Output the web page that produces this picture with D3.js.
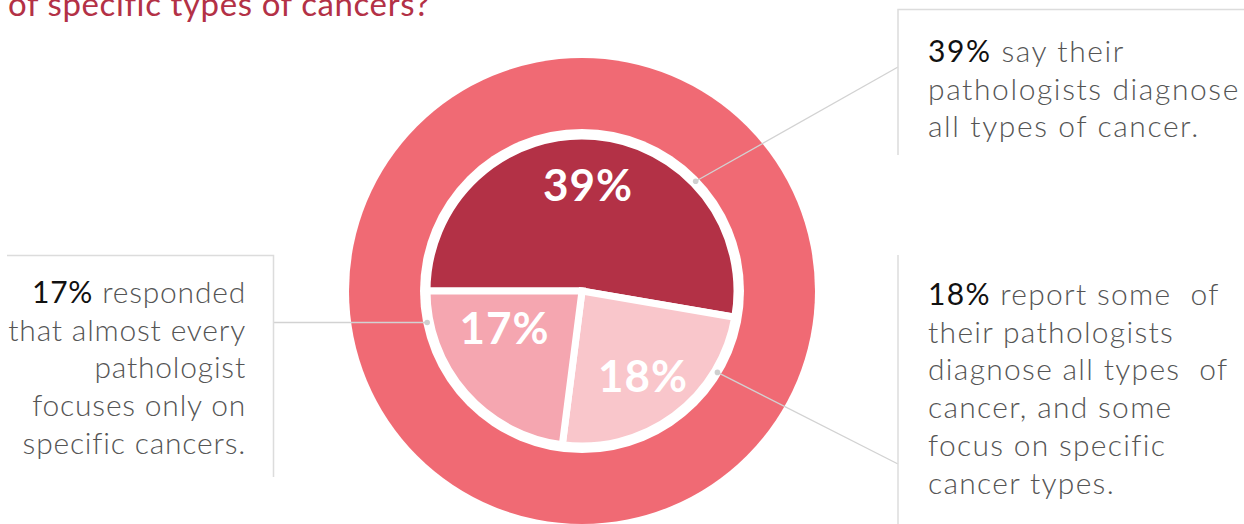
<!DOCTYPE html>
<html>
<head>
<meta charset="utf-8">
<script src="https://cdn.jsdelivr.net/npm/d3@7"></script>
<style>
  body { margin: 0; background: #fff; }
  svg { display: block; }
</style>
</head>
<body>
<div id="chart"></div>
<script>
var width = 1244, height = 524;

// Data
var categories = ["all types", "some of each", "specific only"];
var shares = [39, 18, 17];
var sliceColors = ["#b33146", "#f9c6cb", "#f5a6b0"];

var titleText = "of specific types of cancers?";

// callout texts: bold lead + light lines
var calloutLead = ["39%", "18%", "17%"];
var calloutLines = [
    [" say their", "pathologists diagnose", "all types of cancer."],
    [" report some  of", "their pathologists", "diagnose all types  of", "cancer, and some", "focus on specific", "cancer types."],
    [" responded", "that almost every", "pathologist", "focuses only on", "specific cancers."]
];

var cx = 582, cy = 291;
var outerR = 233, ringR = 162, pieR = 155;

var svg = d3.select("#chart")
    .append("svg")
    .attr("width", width)
    .attr("height", height);

// title (first line falls above the frame)
svg.append("text")
    .attr("x", 8)
    .attr("y", 16)
    .attr("font-family", "Lato, sans-serif")
    .attr("font-size", "33px")
    .attr("letter-spacing", "0.6px")
    .attr("fill", "#b33146")
    .text(titleText);

var g = svg.append("g")
    .attr("transform", `translate(${cx},${cy})`);

// outer ring and white border
g.append("circle").attr("r", outerR).attr("fill", "#f06a74");
g.append("circle").attr("r", ringR).attr("fill", "#fff");

var pie = d3.pie()
    .sort(null)
    .value(d => d)
    .startAngle(-Math.PI / 2)
    .endAngle(Math.PI * 1.5);

var arcs = pie(shares);

var arc = d3.arc().innerRadius(0).outerRadius(pieR);
var labelArc = d3.arc().innerRadius(106).outerRadius(106);

g.selectAll(".slice")
    .data(arcs)
    .enter()
    .append("path")
    .attr("class", "slice")
    .attr("d", arc)
    .attr("fill", (d, i) => sliceColors[i])
    .attr("stroke", "#fff")
    .attr("stroke-width", 7)
    .attr("stroke-linejoin", "miter");

// small manual nudges for label placement
var labelNudge = [[-3, 0], [-2, 0], [2, -33]];

g.selectAll(".plabel")
    .data(arcs)
    .enter()
    .append("text")
    .attr("class", "plabel")
    .attr("x", (d, i) => labelArc.centroid(d)[0] + labelNudge[i][0])
    .attr("y", (d, i) => labelArc.centroid(d)[1] + labelNudge[i][1])
    .attr("dy", "0.36em")
    .attr("text-anchor", "middle")
    .attr("font-family", "Lato, sans-serif")
    .attr("font-weight", "bold")
    .attr("font-size", "44px")
    .attr("letter-spacing", "1px")
    .attr("fill", "#fff")
    .text(d => d.data + "%");

// callouts: dot angle on the ring (deg), end of leader
var dotAngle = [46, 121, 258.5];
var dotR = 158;
var leaderEnd = [[898, 67], [898, 464], [273, null]];

function polar(a, r) {
    var rad = a * Math.PI / 180;
    return [cx + r * Math.sin(rad), cy - r * Math.cos(rad)];
}

var lineColor = "#d2d2d2";
var boxColor = "#dcdcdc";

dotAngle.forEach(function(a, i) {
    var p = polar(a, dotR);
    var end = leaderEnd[i];
    svg.append("line")
        .attr("x1", p[0]).attr("y1", p[1])
        .attr("x2", end[0]).attr("y2", end[1] == null ? p[1] : end[1])
        .attr("stroke", lineColor)
        .attr("stroke-width", 1.3);
    svg.append("circle")
        .attr("cx", p[0]).attr("cy", p[1])
        .attr("r", 2.8)
        .attr("fill", "#cfcfcf");
});

// box rules
var boxes = [
    "M898,155 V9.5 H1244",
    "M898,255 V524",
    "M7,255.5 H273.5 V477"
];
svg.selectAll(".box")
    .data(boxes)
    .enter()
    .append("path")
    .attr("class", "box")
    .attr("d", d => d)
    .attr("fill", "none")
    .attr("stroke", boxColor)
    .attr("stroke-width", 1.5);

// callout texts
var textPos = [
    {x: 928, y: 62, anchor: "start", ls: 1.6},
    {x: 928, y: 305, anchor: "start", ls: 1.3},
    {x: 246, y: 303, anchor: "end", ls: 0.8}
];
var lineH = 37.7;

textPos.forEach(function(pos, i) {
    var t = svg.append("text")
        .attr("x", pos.x)
        .attr("y", pos.y)
        .attr("text-anchor", pos.anchor)
        .attr("font-family", "Lato, sans-serif")
        .attr("font-size", "30px")
        .attr("letter-spacing", pos.ls + "px");
    calloutLines[i].forEach(function(line, j) {
        if (j === 0) {
            t.append("tspan")
                .attr("font-weight", 400)
                .attr("fill", "#111")
                .text(calloutLead[i]);
            t.append("tspan")
                .attr("font-weight", 300)
                .attr("fill", "#555")
                .style("white-space", "pre")
                .text(line);
        } else {
            t.append("tspan")
                .attr("x", pos.x)
                .attr("y", pos.y + j * lineH)
                .attr("font-weight", 300)
                .attr("fill", "#555")
                .style("white-space", "pre")
                .text(line);
        }
    });
});
</script>
</body>
</html>
